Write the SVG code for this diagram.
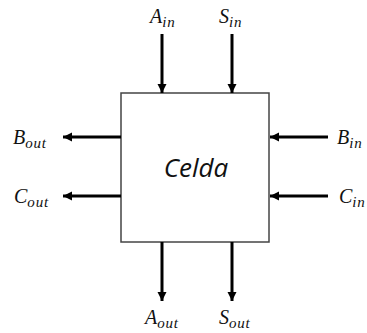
<svg xmlns="http://www.w3.org/2000/svg" width="367" height="333" viewBox="0 0 367 333">
<style>
.box{fill:#fff;stroke:#444;stroke-width:1.5}
.wire{stroke:#000;stroke-width:3;fill:none;marker-end:url(#ah)}
.lbl{font-family:"Liberation Serif","DejaVu Serif",serif;font-style:italic;font-size:20px;fill:#111}
.sub{font-size:15px;letter-spacing:0.8px}
.title{font-family:"Open Sans","Noto Sans",sans-serif;font-style:italic;font-size:26px;fill:#111;text-anchor:middle}
</style>
<defs>
<marker id="ah" markerUnits="userSpaceOnUse" markerWidth="10" markerHeight="10" refX="9" refY="5" orient="auto">
<path d="M0,0.5 L9,5 L0,9.5 z" fill="#000"/>
</marker>
</defs>
<rect width="367" height="333" fill="#fff"/>
<g id="celda">
<rect class="box" x="121" y="93" width="148" height="149"/>
<text class="title" x="196" y="177">Celda</text>
</g>
<g id="connectors">
<line class="wire" x1="162" y1="34" x2="162" y2="93"/>
<line class="wire" x1="232" y1="34" x2="232" y2="93"/>
<line class="wire" x1="162" y1="242" x2="162" y2="301"/>
<line class="wire" x1="232" y1="242" x2="232" y2="301"/>
<line class="wire" x1="121" y1="137" x2="63" y2="137"/>
<line class="wire" x1="121" y1="196" x2="63" y2="196"/>
<line class="wire" x1="328" y1="137" x2="270" y2="137"/>
<line class="wire" x1="328" y1="196" x2="270" y2="196"/>
</g>
<g id="label-ain"><text class="lbl" x="150" y="23">A<tspan class="sub" dy="4">in</tspan></text></g>
<g id="label-sin"><text class="lbl" x="219" y="23">S<tspan class="sub" dy="4">in</tspan></text></g>
<g id="label-aout"><text class="lbl" x="145" y="324">A<tspan class="sub" dy="4">out</tspan></text></g>
<g id="label-sout"><text class="lbl" x="219" y="324">S<tspan class="sub" dy="4">out</tspan></text></g>
<g id="label-bout"><text class="lbl" x="13" y="144">B<tspan class="sub" dy="4">out</tspan></text></g>
<g id="label-cout"><text class="lbl" x="14" y="203">C<tspan class="sub" dy="4">out</tspan></text></g>
<g id="label-bin"><text class="lbl" x="337" y="144">B<tspan class="sub" dy="4">in</tspan></text></g>
<g id="label-cin"><text class="lbl" x="339" y="203">C<tspan class="sub" dy="4">in</tspan></text></g>
</svg>
